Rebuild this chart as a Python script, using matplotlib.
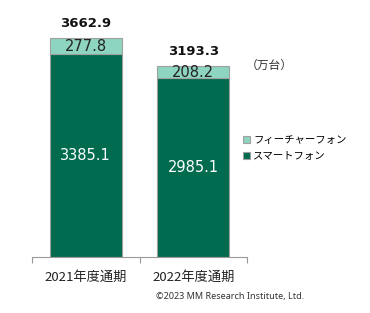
import matplotlib
matplotlib.use("Agg")
import matplotlib.pyplot as plt
from matplotlib.patches import Patch

plt.rcParams['font.family'] = ['Noto Sans CJK JP', 'DejaVu Sans']

categories = ["2021年度通期", "2022年度通期"]
smartphone = [3385.1, 2985.1]
feature = [277.8, 208.2]
totals = [3662.9, 3193.3]
series_names = ["フィーチャーフォン", "スマートフォン"]

dark = "#006B4F"
light = "#8DD5C0"
edge = "#A0A0A0"

fig = plt.figure(figsize=(3.70, 3.13), dpi=100)
W, H = 370, 313
ax = fig.add_axes([32 / W, (H - 256.7) / H, 215 / W, 239 / H])

x = list(range(len(categories)))
ax.bar(x, smartphone, width=0.67, color=dark, edgecolor=edge, linewidth=0.8)
ax.bar(x, feature, bottom=smartphone, width=0.67, color=light, edgecolor=edge, linewidth=0.8)

ax.set_xlim(-0.5, 1.5)
ax.set_ylim(0, 4000)

num_font = ['DejaVu Sans']
for i in x:
    ax.text(i, smartphone[i] / 2, f"{smartphone[i]:.1f}", ha="center", va="center",
            color="white", fontsize=10.5, family=num_font)
    ax.text(i, smartphone[i] + feature[i] / 2, f"{feature[i]:.1f}", ha="center", va="center",
            color="#222222", fontsize=10.5, family=num_font)
    ax.text(i, totals[i] + 130, f"{totals[i]:.1f}", ha="center", va="bottom",
            color="#111111", fontsize=9.5, fontweight="bold", family=num_font)

for s in ["top", "right", "left"]:
    ax.spines[s].set_visible(False)
ax.spines["bottom"].set_color("#999999")
ax.spines["bottom"].set_linewidth(0.8)
ax.set_yticks([])
ax.set_xticks([-0.5, 0.5, 1.5])
ax.set_xticklabels([])
ax.tick_params(axis="x", length=4, color="#999999", width=0.8)
for i, c in enumerate(categories):
    ax.text(i, -0.085, c, transform=ax.get_xaxis_transform(), ha="center", va="center",
            fontsize=9.5, color="#222222")

fig.text(269 / W, 1 - 65 / H, "（万台）", ha="center", va="center", fontsize=8.5, color="#333333")
fig.text(230 / W, 1 - 296 / H, "©2023 MM Research Institute, Ltd.", ha="center", va="center",
         fontsize=6.5, color="#333333", family=['Noto Sans', 'DejaVu Sans'])

handles = [Patch(facecolor=light, edgecolor=edge, linewidth=0.8),
           Patch(facecolor=dark, edgecolor=edge, linewidth=0.8)]
fig.legend(handles, series_names, loc="center left", bbox_to_anchor=(243 / W, 1 - 148 / H),
           frameon=False, fontsize=7.5, handlelength=0.7, handleheight=0.7,
           handletextpad=0.3, labelspacing=0.6, borderaxespad=0, borderpad=0)

fig.savefig("out.png", dpi=100)
